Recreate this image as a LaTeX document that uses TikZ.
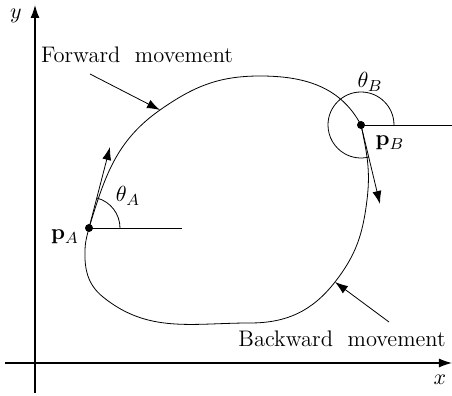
\documentclass[tikz,border=0pt]{standalone}
\usepackage{amsmath, amssymb}
\usepackage{tikz}
\usetikzlibrary{arrows.meta, positioning, calc}

\begin{document}
\begin{tikzpicture}[
    x=0.5pt, y=0.5pt,
    font=\fontsize{11.25}{13}\selectfont,
    curve/.style={thin},
    axis/.style={semithick, -{Latex[length=6.5pt, width=4.5pt]}},
    arrow/.style={thin, -{Latex[length=6.5pt, width=4.5pt]}},
    dot/.style={circle, fill, inner sep=0pt, minimum size=4pt}
]
\useasboundingbox (0,0) rectangle (452,396);

% Points
\coordinate (xs) at (5,33);
\coordinate (xe) at (452,33);
\coordinate (ys) at (35,3);
\coordinate (ye) at (35,391);
\coordinate (pA) at (89,168);
\coordinate (pB) at (361,271);
\coordinate (tA) at (110,249);
\coordinate (tB) at (380,192);
\coordinate (hA) at (182,168);
\coordinate (hB) at (452,271);
\coordinate (fwdtip) at (160,286);
\coordinate (bwdtip) at (335,114);
\coordinate (fwdtail) at (90,322);
\coordinate (bwdtail) at (389,74);

% Labels
\node (xlab) at (440,16) {$x$};
\node (ylab) at (16,380) {$y$};
\node (lpA) at (65,159) {$\mathbf{p}_A$};
\node (lpB) at (390,253) {$\mathbf{p}_B$};
\node (thA) at (128,200) {$\theta_A$};
\node (thB) at (370,314) {$\theta_B$};
\node (fwd) at (137,341) {Forward\ \ movement};
\node (bwd) at (342,57) {Backward\ \ movement};

% Axes
\draw[axis] (xs) -- (xe);
\draw[axis] (ys) -- (ye);

% Path
\draw[curve] (pA)
    to[out=73, in=215] (fwdtip)
    to[out=35, in=180] (260,320)
    to[out=0, in=118] (pB)
    to[out=-78, in=83] (367,196)
    to[out=-97, in=52] (bwdtip)
    to[out=-128, in=0] (250,73)
    to[out=180, in=-39] (103,99)
    to[out=141, in=-92] (85,146)
    to[out=88, in=-105] (pA);

% Angles
\draw[thin] (pA) -- (hA);
\draw[thin] (pB) -- (hB);
\draw[thin] ($(pA)+(31,0)$) arc[start angle=0, end angle=75, radius=31];
\draw[thin] ($(pB)+(33,0)$) arc[start angle=0, end angle=284, radius=33];
\node (dA) [dot] at (pA) {};
\node (dB) [dot] at (pB) {};

% Links
\draw[arrow] (pA) -- (tA);
\draw[arrow] (pB) -- (tB);
\draw[arrow] (fwdtail) -- (fwdtip);
\draw[arrow] (bwdtail) -- (bwdtip);

\end{tikzpicture}
\end{document}
